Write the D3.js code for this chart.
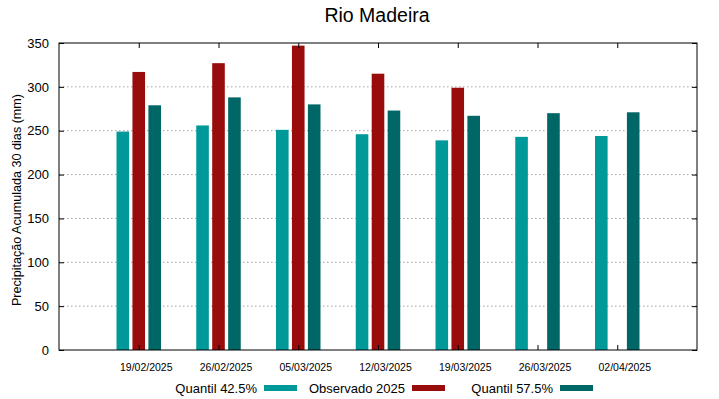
<!DOCTYPE html>
<html>
<head>
<meta charset="utf-8">
<script src="https://cdn.jsdelivr.net/npm/d3@7"></script>
<style>
  body { margin: 0; background: #fff; }
  text { font-family: "Liberation Sans", Arial, sans-serif; fill: #000; }
</style>
</head>
<body>
<div id="chart"></div>
<script>
// dates on the x axis
const dates = ["19/02/2025", "26/02/2025", "05/03/2025", "12/03/2025", "19/03/2025", "26/03/2025", "02/04/2025"];
// series values (mm), null = no observation
const q425 = [249, 256, 251, 246, 239, 243, 244];
const obs2025 = [317, 327, 347, 315, 299, null, null];
const q575 = [279, 288, 280, 273, 267, 270, 271];
const yTicks = [0, 50, 100, 150, 200, 250, 300, 350];

const series = [
  { name: "Quantil 42.5%", values: q425, color: "#009999", off: -0.2 },
  { name: "Observado 2025", values: obs2025, color: "#990c0c", off: 0 },
  { name: "Quantil 57.5%", values: q575, color: "#006666", off: 0.2 }
];

const W = 719, H = 399;
const margin = { top: 43, right: 22, bottom: 49, left: 59 };

const svg = d3.select("#chart").append("svg")
  .attr("width", W).attr("height", H);

// x is a linear index scale so the groups sit at the tick marks
const x = d3.scaleLinear().domain([-1, 7]).range([margin.left, W - margin.right]);
const y = d3.scaleLinear().domain([0, 350]).range([H - margin.bottom, margin.top]);
const barW = x(0.158) - x(0);

// grid
svg.append("g")
  .selectAll("line")
  .data(yTicks.filter(d => d > 0 && d < 350))
  .join("line")
  .attr("x1", margin.left).attr("x2", W - margin.right)
  .attr("y1", d => y(d)).attr("y2", d => y(d))
  .attr("stroke", "#a0a0a0").attr("stroke-width", 1)
  .attr("stroke-dasharray", "1.5,2.5");

// bars
series.forEach(s => {
  svg.append("g")
    .selectAll("rect")
    .data(s.values.map((v, i) => ({ v, i })).filter(d => d.v != null))
    .join("rect")
    .attr("x", d => x(d.i + s.off) - barW / 2)
    .attr("width", barW)
    .attr("y", d => y(d.v))
    .attr("height", d => y(0) - y(d.v))
    .attr("fill", s.color);
});

// axes (gnuplot style: ticks inside, mirrored)
const yAxisL = svg.append("g")
  .attr("transform", `translate(${margin.left},0)`)
  .call(d3.axisLeft(y).tickValues(yTicks).tickSize(-5).tickPadding(10));
const yAxisR = svg.append("g")
  .attr("transform", `translate(${W - margin.right},0)`)
  .call(d3.axisRight(y).tickValues(yTicks).tickSize(-5).tickFormat(""));
const xAxisB = svg.append("g")
  .attr("transform", `translate(0,${H - margin.bottom})`)
  .call(d3.axisBottom(x).tickValues(d3.range(dates.length)).tickSize(-5).tickPadding(14)
    .tickFormat(i => dates[i]));
const xAxisT = svg.append("g")
  .attr("transform", `translate(0,${margin.top})`)
  .call(d3.axisTop(x).tickValues(d3.range(dates.length)).tickSize(-5).tickFormat(""));

[yAxisL, yAxisR, xAxisB, xAxisT].forEach(g => {
  g.select(".domain").remove();
  g.selectAll(".tick line").attr("stroke", "#000");
});
yAxisL.selectAll("text").attr("font-size", 13).style("font-family", "Liberation Sans, Arial, sans-serif");
// date labels sit a little to the right of their ticks in the original
xAxisB.selectAll("text").attr("font-size", 10.5).attr("dx", 7)
  .style("font-family", "Liberation Sans, Arial, sans-serif");

// frame
svg.append("rect")
  .attr("x", margin.left).attr("y", margin.top)
  .attr("width", W - margin.left - margin.right)
  .attr("height", H - margin.bottom - margin.top)
  .attr("fill", "none").attr("stroke", "#000").attr("stroke-width", 1);

// title
svg.append("text")
  .attr("x", 377).attr("y", 22)
  .attr("text-anchor", "middle")
  .attr("font-size", 19.5)
  .text("Rio Madeira");

// y label
svg.append("text")
  .attr("transform", "translate(21,200) rotate(-90)")
  .attr("text-anchor", "middle")
  .attr("font-size", 12.6)
  .text("Precipitação Acumulada 30 dias (mm)");

// legend: label right-aligned before a short thick swatch
const legendX = [257, 405, 553];
const legend = svg.append("g").selectAll("g")
  .data(series)
  .join("g")
  .attr("transform", (d, i) => `translate(${legendX[i]},388)`);
legend.append("text")
  .attr("text-anchor", "end")
  .attr("dy", "0.35em")
  .attr("font-size", 13)
  .text(d => d.name);
legend.append("rect")
  .attr("x", 7).attr("y", -3)
  .attr("width", 33).attr("height", 6)
  .attr("fill", d => d.color);
</script>
</body>
</html>
